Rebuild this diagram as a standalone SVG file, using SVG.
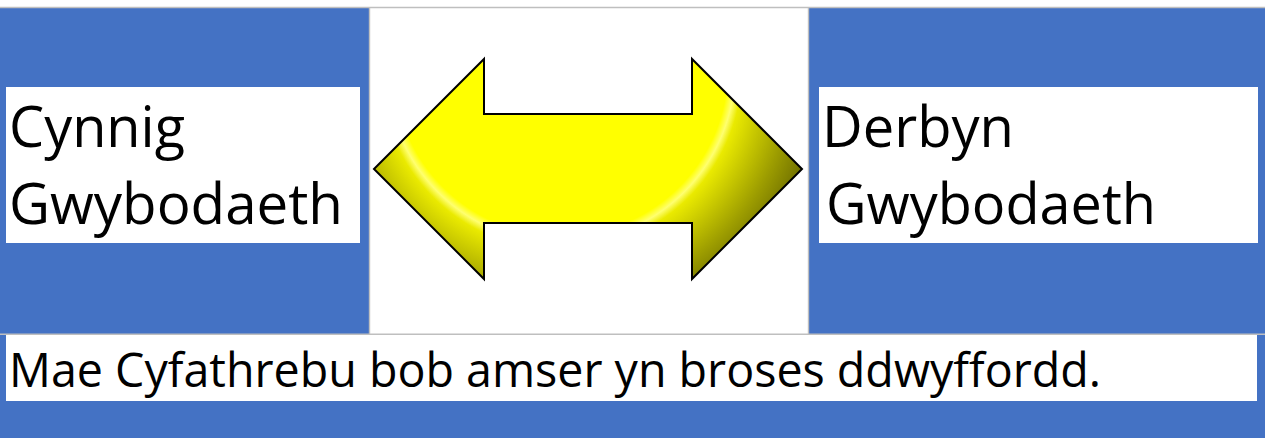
<svg xmlns="http://www.w3.org/2000/svg" width="1265" height="438" viewBox="0 0 1265 438">
  <style>
    .blue { fill: #4472c4; }
    .box { fill: #ffffff; }
    .grid { stroke: #bfbfbf; stroke-width: 1.4; fill: none; }
    .big { font-family: "Open Sans", "Liberation Sans", sans-serif; font-size: 56px; fill: #000000; }
    .mid { font-family: "Open Sans", "Liberation Sans", sans-serif; font-size: 48px; fill: #000000; }
  </style>
  <defs>
    <radialGradient id="arrowGrad" gradientUnits="userSpaceOnUse" cx="561" cy="69" r="290">
      <stop offset="0" stop-color="#ffff00"/>
      <stop offset="0.575" stop-color="#ffff00"/>
      <stop offset="0.6" stop-color="#ffff70"/>
      <stop offset="0.625" stop-color="#eaea00"/>
      <stop offset="0.8" stop-color="#9c9c00"/>
      <stop offset="1" stop-color="#484800"/>
    </radialGradient>
  </defs>
  <rect x="0" y="0" width="1265" height="438" fill="#ffffff"/>

  <g id="node-cynnig">
    <rect class="blue" x="0" y="8" width="369" height="326"/>
    <rect class="box" x="6" y="87" width="354" height="156"/>
    <text class="big" x="9" y="147" textLength="176" lengthAdjust="spacingAndGlyphs">Cynnig</text>
    <text class="big" x="9" y="224" textLength="334" lengthAdjust="spacingAndGlyphs">Gwybodaeth</text>
  </g>

  <g id="node-middle">
    <rect class="box" x="370" y="8" width="438" height="326"/>
  </g>

  <g id="node-derbyn">
    <rect class="blue" x="809" y="8" width="456" height="326"/>
    <rect class="box" x="819" y="87" width="439" height="156"/>
    <text class="big" x="822" y="147" textLength="192" lengthAdjust="spacingAndGlyphs">Derbyn</text>
    <text class="big" x="826" y="224" textLength="330" lengthAdjust="spacingAndGlyphs">Gwybodaeth</text>
  </g>

  <g id="node-summary">
    <rect class="blue" x="0" y="334" width="1265" height="104"/>
    <rect class="box" x="6" y="335" width="1251" height="66"/>
    <text class="mid" x="9" y="387" textLength="1092" lengthAdjust="spacingAndGlyphs">Mae Cyfathrebu bob amser yn broses ddwyffordd.</text>
  </g>

  <g id="grid-lines">
    <line class="grid" x1="0" y1="7.5" x2="1265" y2="7.5"/>
    <line class="grid" x1="369.5" y1="8" x2="369.5" y2="334"/>
    <line class="grid" x1="808.5" y1="8" x2="808.5" y2="334"/>
    <line class="grid" x1="0" y1="334.3" x2="1265" y2="334.3"/>
  </g>

  <g id="connectors">
    <g id="arrow-two-way">
      <polygon points="374,169 484,59 484,114 692,114 692,59 802,169 692,279 692,223 484,223 484,279" fill="url(#arrowGrad)" stroke="#000000" stroke-width="2" stroke-linejoin="miter"/>
    </g>
  </g>
</svg>
